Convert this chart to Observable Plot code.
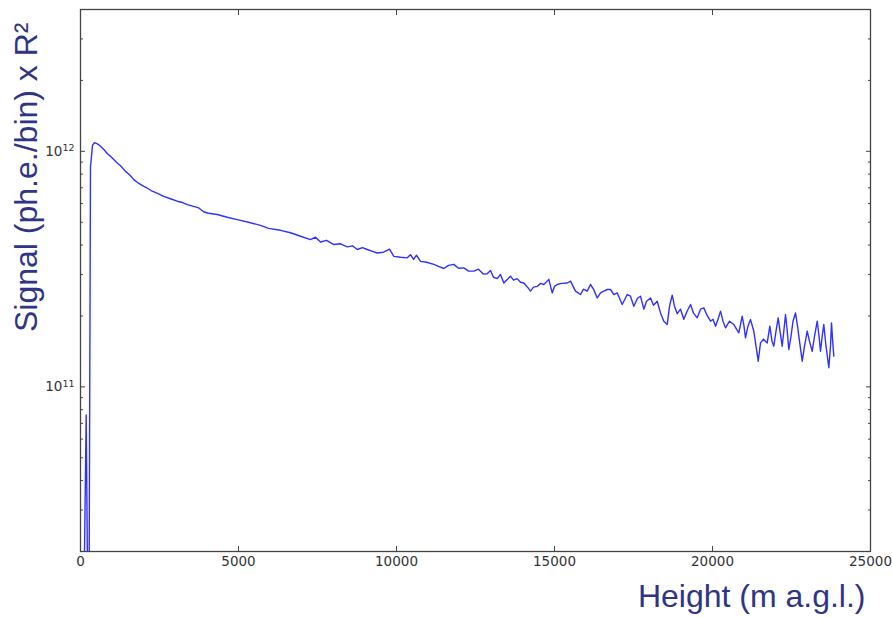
<!DOCTYPE html>
<html><head><meta charset="utf-8">
<script src="https://cdn.jsdelivr.net/npm/d3@7"></script>
<script src="https://cdn.jsdelivr.net/npm/@observablehq/plot@0.6"></script>
<style>html,body{margin:0;padding:0;background:#fff}#chart svg{display:block}</style>
</head><body><div id="chart"></div>
<script>
// Height above ground level (m)
const heights = [100,180,235,270,316,380,434,506,580,665,760,854,949,1044,1161,1266,1424,1551,1687,1835,2003,2120,2269,2437,2636,2848,3060,3196,3377,3576,3744,3892,4051,4326,4642,4959,5317,5696,5949,6329,6646,6962,7279,7437,7595,7785,8016,8228,8440,8608,8757,8924,9073,9241,9390,9589,9779,9915,10127,10339,10443,10538,10633,10760,10950,11181,11329,11497,11646,11814,11962,12130,12279,12447,12595,12753,12870,12975,13070,13187,13291,13396,13513,13608,13703,13820,13924,14029,14146,14241,14336,14452,14557,14662,14820,14928,15000,15086,15222,15402,15507,15665,15823,15918,16035,16139,16234,16352,16456,16560,16668,16772,16878,16985,17143,17301,17405,17510,17627,17722,17827,17912,18038,18133,18250,18355,18459,18567,18640,18725,18797,18883,18988,19092,19200,19305,19400,19516,19621,19725,19827,19937,20016,20096,20175,20254,20333,20412,20539,20675,20760,20833,20940,20997,21044,21123,21203,21307,21377,21447,21519,21614,21731,21814,21883,21940,22010,22079,22136,22206,22263,22311,22365,22415,22485,22548,22627,22691,22754,22839,22912,22997,23070,23155,23228,23314,23371,23418,23472,23522,23592,23681,23734,23766,23798,23839];
// Range-corrected signal (ph.e./bin x R^2)
const signal = [1.0e10,7.6e10,1.0e10,1.2e10,8.6e11,1.06e12,1.087e12,1.08e12,1.066e12,1.04e12,1.01e12,9.76e11,9.52e11,9.25e11,8.92e11,8.68e11,8.22e11,7.95e11,7.58e11,7.32e11,7.10e11,6.97e11,6.77e11,6.63e11,6.44e11,6.29e11,6.14e11,6.08e11,5.94e11,5.84e11,5.75e11,5.54e11,5.46e11,5.39e11,5.25e11,5.13e11,5.00e11,4.85e11,4.71e11,4.62e11,4.51e11,4.36e11,4.22e11,4.32e11,4.12e11,4.19e11,4.02e11,4.05e11,3.93e11,3.97e11,3.83e11,3.90e11,3.83e11,3.76e11,3.70e11,3.73e11,3.84e11,3.58e11,3.55e11,3.53e11,3.64e11,3.48e11,3.62e11,3.41e11,3.38e11,3.31e11,3.25e11,3.18e11,3.28e11,3.31e11,3.19e11,3.20e11,3.10e11,3.10e11,3.16e11,3.01e11,3.02e11,3.12e11,2.92e11,2.88e11,3.00e11,2.76e11,2.86e11,2.95e11,2.84e11,2.88e11,2.78e11,2.76e11,2.65e11,2.55e11,2.65e11,2.67e11,2.75e11,2.72e11,2.86e11,2.505e11,2.67e11,2.72e11,2.75e11,2.76e11,2.81e11,2.55e11,2.466e11,2.598e11,2.55e11,2.72e11,2.60e11,2.385e11,2.505e11,2.55e11,2.59e11,2.59e11,2.466e11,2.505e11,2.237e11,2.466e11,2.425e11,2.20e11,2.378e11,2.425e11,2.137e11,2.31e11,2.385e11,2.22e11,2.31e11,2.06e11,1.90e11,1.84e11,2.20e11,2.45e11,2.20e11,2.045e11,2.137e11,1.937e11,2.10e11,2.237e11,2.055e11,1.963e11,2.137e11,2.164e11,2.015e11,1.90e11,1.937e11,1.81e11,1.937e11,2.096e11,1.90e11,1.78e11,1.90e11,1.84e11,1.757e11,1.695e11,1.995e11,1.81e11,1.614e11,1.81e11,1.93e11,1.723e11,1.488e11,1.285e11,1.537e11,1.594e11,1.537e11,1.81e11,1.56e11,1.488e11,1.723e11,1.963e11,1.723e11,1.488e11,1.757e11,2.029e11,1.723e11,1.44e11,1.64e11,1.90e11,2.06e11,1.81e11,1.56e11,1.285e11,1.488e11,1.723e11,1.56e11,1.416e11,1.64e11,1.90e11,1.64e11,1.416e11,1.64e11,1.84e11,1.488e11,1.205e11,1.488e11,1.87e11,1.594e11,1.35e11];

const xTicks = [0, 5000, 10000, 15000, 20000, 25000];
const yMajorTicks = [1e11, 1e12];
const yMinorTicks = [3e10,4e10,5e10,6e10,7e10,8e10,9e10,2e11,3e11,4e11,5e11,6e11,7e11,8e11,9e11,2e12,3e12];
const xLabel = "Height (m a.g.l.)";
const yLabel = "Signal (ph.e./bin) x R²";

const data = heights.map((h, i) => ({h, s: signal[i]}));
const fmtPow = d => "10^" + Math.round(Math.log10(d));
const labelColor = "#2f3485";
const tickColor = "#444";

const chart = Plot.plot({
  width: 892, height: 617,
  marginLeft: 80, marginRight: 22, marginTop: 9, marginBottom: 66,
  style: {fontFamily: "DejaVu Sans", background: "#fff", overflow: "visible"},
  x: {domain: [0, 25000]},
  y: {type: "log", domain: [2e10, 4e12]},
  marks: [
    Plot.line(data, {x: "h", y: "s", stroke: "#3030ff", strokeWidth: 1.4, clip: true}),
    Plot.frame({stroke: tickColor, strokeWidth: 1.3}),
    Plot.axisX(xTicks, {anchor: "bottom", tickSize: 0, tickPadding: 5, tickFormat: d => String(d), fontSize: 13.5, fill: "#333", label: null}),
    Plot.axisX(xTicks, {anchor: "bottom", tickSize: 5, dy: -5, fill: "none", stroke: tickColor, label: null}),
    Plot.axisX(xTicks, {anchor: "top", tickSize: 5, dy: 5, fill: "none", stroke: tickColor, label: null}),
    Plot.axisY(yMajorTicks, {anchor: "left", tickSize: 0, tickPadding: 6, tickFormat: fmtPow, fontSize: 13.5, fill: "#333", label: null}),
    Plot.axisY(yMajorTicks, {anchor: "left", tickSize: 5, dx: 5, fill: "none", stroke: tickColor, label: null}),
    Plot.axisY(yMajorTicks, {anchor: "right", tickSize: 5, dx: -5, fill: "none", stroke: tickColor, label: null}),
    Plot.axisY(yMinorTicks, {anchor: "left", tickSize: 3, dx: 3, fill: "none", stroke: tickColor, label: null}),
    Plot.axisY(yMinorTicks, {anchor: "right", tickSize: 3, dx: -3, fill: "none", stroke: tickColor, label: null}),
    Plot.text([xLabel], {frameAnchor: "bottom-right", text: d => d, textAnchor: "end", dx: -5, dy: 55, fontSize: 32, fill: labelColor, fontFamily: "Liberation Sans"}),
    Plot.text([yLabel], {frameAnchor: "top-left", text: d => d, rotate: -90, textAnchor: "end", dx: -66, dy: 13, fontSize: 32, fill: labelColor, fontFamily: "Liberation Sans"})
  ]
});
// render exponents of the y tick labels as superscripts
chart.querySelectorAll('g[aria-label="y-axis tick label"] text').forEach(t => {
  const m = /^(\d+)\^(\d+)$/.exec(t.textContent);
  if (!m) return;
  t.textContent = "";
  const ns = "http://www.w3.org/2000/svg";
  const base = document.createElementNS(ns, "tspan");
  base.textContent = m[1];
  const ex = document.createElementNS(ns, "tspan");
  ex.textContent = m[2];
  ex.setAttribute("font-size", "9.5");
  ex.setAttribute("dy", "-0.45em");
  t.append(base, ex);
});
document.getElementById("chart").append(chart);
</script>
</body></html>
